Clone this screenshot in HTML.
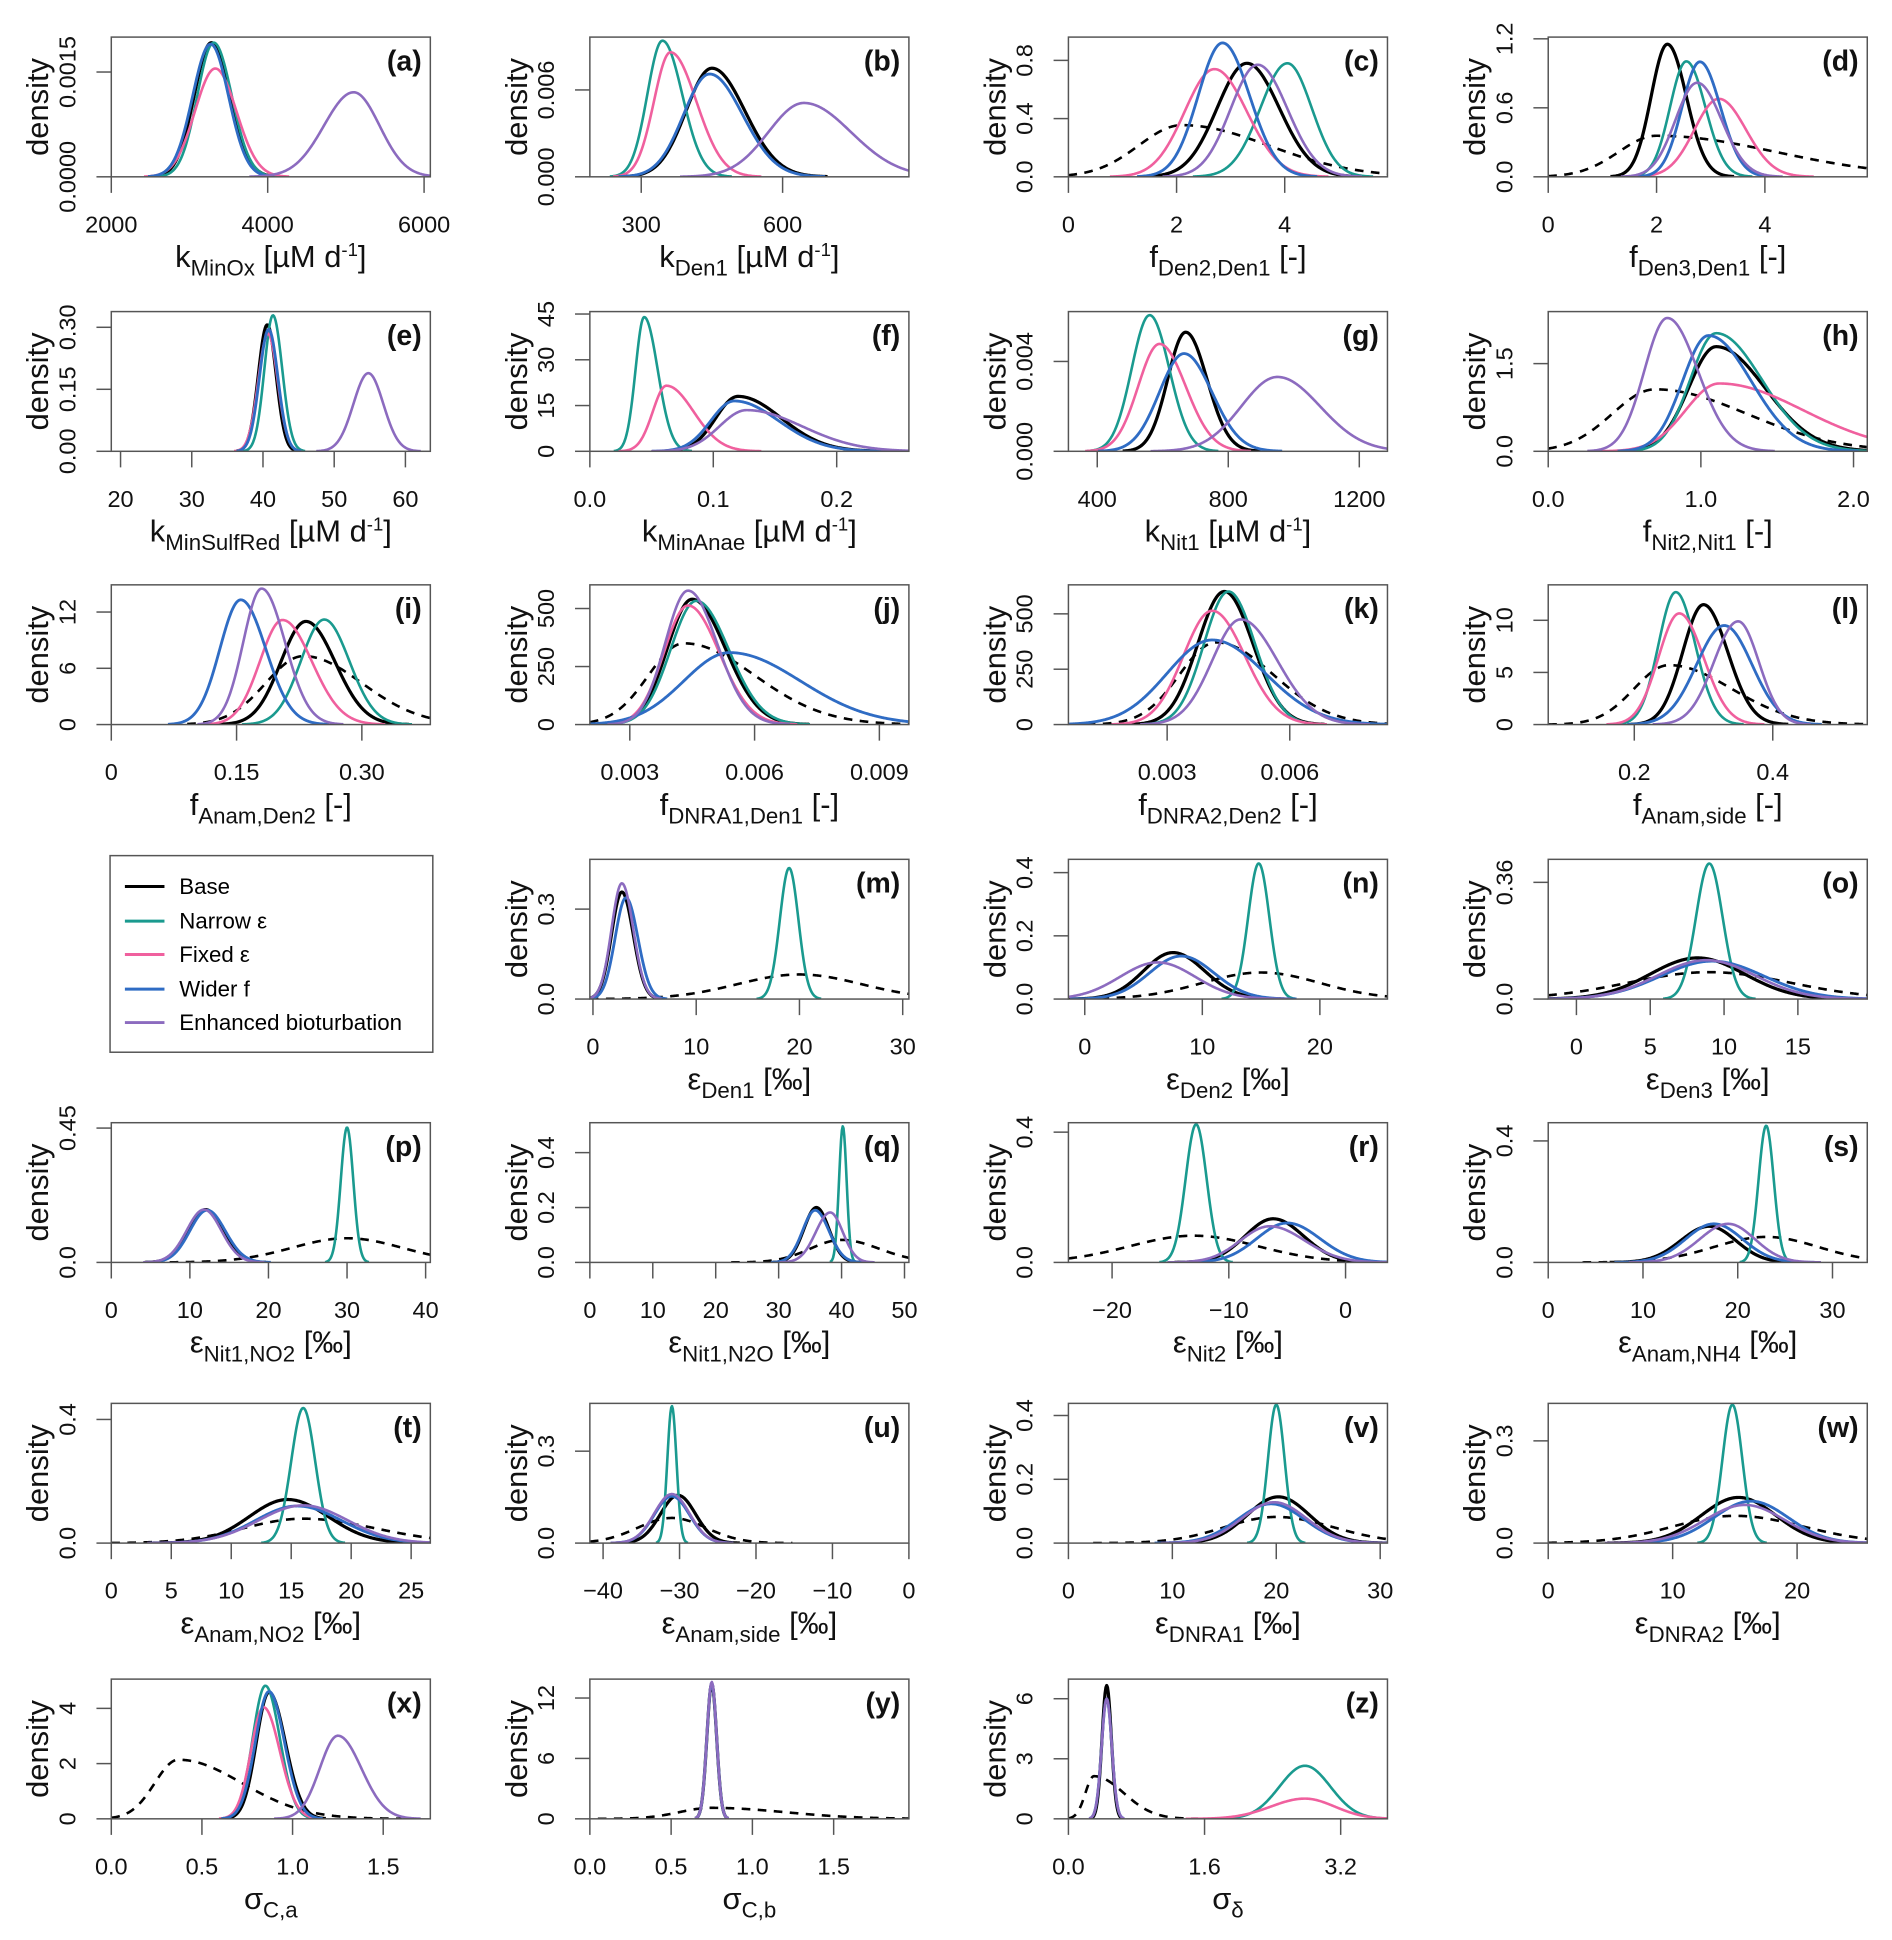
<!DOCTYPE html>
<html><head><meta charset="utf-8">
<style>
html,body{margin:0;padding:0;background:#fff;}
svg{display:block;font-family:"Liberation Sans",Arial,sans-serif;}
</style></head>
<body>
<svg id="fig" width="1892" height="1940" viewBox="0 0 1530 1569" preserveAspectRatio="none" xmlns="http://www.w3.org/2000/svg">
<rect x="0" y="0" width="1530" height="1569" fill="#fff"/>
<g id="legend">
  <rect x="89" y="692" width="261" height="159" fill="none" stroke="#555" stroke-width="1.2"/>
  <g><line x1="101" y1="717" x2="133" y2="717" stroke="#000" stroke-width="2.4"/><text x="145" y="723" font-size="18">Base</text></g>
  <g><line x1="101" y1="745" x2="133" y2="745" stroke="#1a9a8f" stroke-width="2.4"/><text x="145" y="751" font-size="18">Narrow ε</text></g>
  <g><line x1="101" y1="772" x2="133" y2="772" stroke="#f0609e" stroke-width="2.4"/><text x="145" y="778" font-size="18">Fixed ε</text></g>
  <g><line x1="101" y1="800" x2="133" y2="800" stroke="#2f6cc4" stroke-width="2.4"/><text x="145" y="806" font-size="18">Wider f</text></g>
  <g><line x1="101" y1="827" x2="133" y2="827" stroke="#8c6bbf" stroke-width="2.4"/><text x="145" y="833" font-size="18">Enhanced bioturbation</text></g>
</g>
</svg>
<script>
// ---- data (per panel, index order a..z) ----
const panelLabels = ['a','b','c','d','e','f','g','h','i','j','k','l','m','n','o','p','q','r','s','t','u','v','w','x','y','z'];
const panelSlots = [0,1,2,3,4,5,6,7,8,9,10,11,13,14,15,16,17,18,19,20,21,22,23,24,25,26];
const xDomains = [[2000,6080],[191,868],[0,5.9],[0,5.89],[18.7,63.5],[0,0.2585],[312,1286],[0,2.09],[0,0.382],[0.00204,0.00971],[0.000585,0.00839],[0.0757,0.5365],[-0.3,30.6],[-1.39,25.75],[-1.91,19.7],[0,40.6],[0,50.7],[-23.74,3.59],[0,33.67],[0,26.6],[-41.73,0],[0,30.7],[0,25.64],[0,1.76],[0,1.963],[0,3.75]];
const xTicks = [[2000,4000,6000],[300,600],[0,2,4],[0,2,4],[20,30,40,50,60],[0,0.1,0.2],[400,800,1200],[0,1,2],[0,0.15,0.30],[0.003,0.006,0.009],[0.003,0.006],[0.2,0.4],[0,10,20,30],[0,10,20],[0,5,10,15],[0,10,20,30,40],[0,10,20,30,40,50],[-20,-10,0],[0,10,20,30],[0,5,10,15,20,25],[-40,-30,-20,-10,0],[0,10,20,30],[0,10,20],[0,0.5,1,1.5],[0,0.5,1,1.5],[0,1.6,3.2]];
const xTickLabels = [['2000','4000','6000'],['300','600'],['0','2','4'],['0','2','4'],['20','30','40','50','60'],['0.0','0.1','0.2'],['400','800','1200'],['0.0','1.0','2.0'],['0','0.15','0.30'],['0.003','0.006','0.009'],['0.003','0.006'],['0.2','0.4'],['0','10','20','30'],['0','10','20'],['0','5','10','15'],['0','10','20','30','40'],['0','10','20','30','40','50'],['\u221220','\u221210','0'],['0','10','20','30'],['0','5','10','15','20','25'],['\u221240','\u221230','\u221220','\u221210','0'],['0','10','20','30'],['0','10','20'],['0.0','0.5','1.0','1.5'],['0.0','0.5','1.0','1.5'],['0.0','1.6','3.2']];
const yMaxes = [0.002,0.00965,0.96,1.215,0.338,45.8,0.00622,2.39,14.9,602,631,13.4,0.466,0.442,0.431,0.468,0.509,0.429,0.46,0.452,0.456,0.438,0.41,5.06,13.88,6.98];
const yTicks = [[0,0.0015],[0,0.006],[0,0.4,0.8],[0,0.6,1.2],[0,0.15,0.3],[0,15,30,45],[0,0.004],[0,1.5],[0,6,12],[0,250,500],[0,250,500],[0,5,10],[0,0.3],[0,0.2,0.4],[0,0.36],[0,0.45],[0,0.2,0.4],[0,0.4],[0,0.4],[0,0.4],[0,0.3],[0,0.2,0.4],[0,0.3],[0,2,4],[0,6,12],[0,3,6]];
const yTickLabels = [['0.0000','0.0015'],['0.000','0.006'],['0.0','0.4','0.8'],['0.0','0.6','1.2'],['0.00','0.15','0.30'],['0','15','30','45'],['0.000','0.004'],['0.0','1.5'],['0','6','12'],['0','250','500'],['0','250','500'],['0','5','10'],['0.0','0.3'],['0.0','0.2','0.4'],['0.0','0.36'],['0.0','0.45'],['0.0','0.2','0.4'],['0.0','0.4'],['0.0','0.4'],['0.0','0.4'],['0.0','0.3'],['0.0','0.2','0.4'],['0.0','0.3'],['0','2','4'],['0','6','12'],['0','3','6']];
const titleSymbols = ['k','k','f','f','k','k','k','f','f','f','f','f','\u03b5','\u03b5','\u03b5','\u03b5','\u03b5','\u03b5','\u03b5','\u03b5','\u03b5','\u03b5','\u03b5','\u03c3','\u03c3','\u03c3'];
const titleSubs = ['MinOx','Den1','Den2,Den1','Den3,Den1','MinSulfRed','MinAnae','Nit1','Nit2,Nit1','Anam,Den2','DNRA1,Den1','DNRA2,Den2','Anam,side','Den1','Den2','Den3','Nit1,NO2','Nit1,N2O','Nit2','Anam,NH4','Anam,NO2','Anam,side','DNRA1','DNRA2','C,a','C,b','\u03b4'];
const titleUnits = ['rate','rate','-','-','rate','rate','rate','-','-','-','-','-','permil','permil','permil','permil','permil','permil','permil','permil','permil','permil','permil','','',''];
// series: [mode, peak density, left spread, right spread] per panel, null = absent
const baseSeries = [[3280,0.00192,220,240],[450,0.0075,55,70],[3.3,0.78,0.55,0.6],[2.2,1.153,0.3,0.35],[40.6,0.306,1.25,1.25],[0.12,18,0.018,0.035],[670,0.0053,55,65],[1.1,1.79,0.18,0.32],[0.233,11.0,0.03,0.035],[0.0045,540,0.0006,0.0008],[0.0044,601,0.00065,0.0007],[0.3,11.5,0.03,0.035],[2.8,0.357,1.0,1.1],[7.5,0.147,2.5,2.7],[8.2,0.127,3.2,3.2],[12,0.177,2.2,2.2],[36,0.2,2,2],[-6.2,0.134,2.4,2.6],[17,0.119,3,2.8],[14.7,0.141,3.2,3.4],[-30.2,0.156,2.3,2.3],[20.2,0.145,3,3],[15.3,0.134,3,3],[0.87,4.58,0.07,0.09],[0.75,13.4,0.03,0.03],[0.45,6.66,0.055,0.055]];
const narrowSeries = [[3310,0.00192,210,230],[345,0.0094,32,42],[4.05,0.78,0.5,0.45],[2.55,1.004,0.3,0.35],[41.4,0.329,1.2,1.3],[0.044,44,0.007,0.011],[560,0.00606,55,60],[1.1,2.02,0.17,0.3],[0.255,11.2,0.028,0.03],[0.0046,533,0.00062,0.00078],[0.0045,601,0.0006,0.00065],[0.26,12.7,0.025,0.028],[19,0.437,0.9,0.9],[14.8,0.429,0.9,0.9],[9,0.418,0.9,0.9],[30,0.452,0.8,0.8],[40.2,0.496,0.6,0.6],[-12.8,0.424,0.9,0.9],[23,0.45,0.8,0.8],[16,0.437,1,1],[-31,0.447,0.6,0.6],[20,0.434,0.8,0.8],[14.8,0.406,0.8,0.8],[0.85,4.82,0.07,0.08],[0.75,13.4,0.03,0.03],[2.78,2.65,0.3,0.3]];
const fixedSeries = [[3330,0.00155,260,270],[362,0.0086,35,55],[2.7,0.74,0.55,0.6],[3.15,0.678,0.45,0.5],[40.7,0.285,1.35,1.35],[0.062,21.5,0.011,0.022],[590,0.00478,65,80],[1.12,1.16,0.22,0.55],[0.205,11.15,0.027,0.035],[0.0044,513,0.00058,0.00075],[0.0041,514,0.0007,0.0008],[0.265,10.66,0.03,0.035],null,null,null,null,null,null,null,null,null,null,null,[0.84,4.04,0.07,0.09],[0.75,13.4,0.03,0.03],[2.78,1.01,0.4,0.35]];
const widerSeries = [[3270,0.0019,230,230],[445,0.0071,55,70],[2.85,0.92,0.45,0.5],[2.8,1.0,0.33,0.38],[40.8,0.295,1.3,1.3],[0.117,16.5,0.019,0.036],[665,0.00435,75,85],[1.05,1.98,0.17,0.28],[0.155,13.3,0.025,0.03],[0.0054,310,0.0011,0.0017],[0.0041,382,0.0011,0.0013],[0.33,9.5,0.04,0.04],[3.2,0.338,1.05,1.15],[8.2,0.136,2.7,2.8],[9.2,0.117,3.5,3.5],[12.2,0.175,2.2,2.3],[35.8,0.19,2,2.2],[-5,0.121,2.6,2.8],[17.5,0.127,3,3],[15.5,0.12,3.5,3.7],[-31,0.153,2.3,2.3],[19.5,0.123,3.2,3.2],[16.3,0.123,3,3],[0.87,4.61,0.075,0.085],[0.75,13.5,0.03,0.03],[0.45,6.0,0.06,0.06]];
const enhancedSeries = [[5100,0.00121,380,330],[645,0.0051,75,100],[3.5,0.77,0.5,0.55],[2.75,0.818,0.4,0.45],[54.8,0.189,2.1,2.1],[0.127,13.5,0.022,0.045],[950,0.00331,110,130],[0.78,2.28,0.15,0.2],[0.18,14.5,0.022,0.028],[0.0044,577,0.00055,0.0007],[0.0048,475,0.0007,0.0009],[0.35,9.9,0.035,0.03],[2.8,0.386,1.0,1.1],[6.2,0.116,3.2,3.2],[8.8,0.12,3.3,3.3],[11.8,0.177,2.2,2.2],[38.2,0.182,2.3,2],[-6.5,0.111,2.5,3],[19,0.127,3,2.8],[16,0.122,3.7,3.7],[-31,0.16,2.3,2.3],[19.8,0.128,3.1,3.1],[15.8,0.112,3.2,3.2],[1.25,3.01,0.1,0.13],[0.75,13.6,0.03,0.03],[0.45,6.0,0.06,0.06]];
const priorSeries = [null,null,[2.1,0.355,0.8,1.6],[2.0,0.357,0.7,2.2],null,null,null,[0.7,1.06,0.28,0.6],[0.23,7.3,0.045,0.07],[0.0043,350,0.00085,0.0017],[0.0042,371,0.0009,0.0014],[0.25,5.7,0.05,0.09],[20,0.082,6,6],[15,0.084,5,5],[9,0.083,5.5,5.5],[30,0.081,7,7],[40,0.082,5,6],[-13,0.082,5.5,5.5],[23,0.084,5.5,5.5],[16,0.079,5,6],[-31,0.082,4.5,4.5],[20,0.082,5,5.5],[15,0.08,5,5.5],[0.37,2.14,0.13,0.35],[0.75,1.09,0.2,0.45],[0.3,2.13,0.1,0.35]];

// ---- layout ----
const colX = [90,477,864,1252];
const rowY = [30,252,473,695,908,1135,1358];
const W = 258, H = 113;
const NS = 'http://www.w3.org/2000/svg';
const svg = document.getElementById('fig');
function mk(tag, attrs, parent){const e=document.createElementNS(NS,tag);for(const k in attrs)e.setAttribute(k,attrs[k]);(parent||svg).appendChild(e);return e;}
function dens(x,c){const s=x<c[0]?c[2]:c[3];return c[1]*Math.exp(-0.5*((x-c[0])/s)*((x-c[0])/s));}

const seriesList = [
  {data: priorSeries, name:'prior', color:'#000', dash:'7,6', w:2.1},
  {data: baseSeries, name:'base', color:'#000', dash:'', w:2.6},
  {data: narrowSeries, name:'narrow-eps', color:'#1a9a8f', dash:'', w:2.1},
  {data: fixedSeries, name:'fixed-eps', color:'#f0609e', dash:'', w:2.1},
  {data: widerSeries, name:'wider-f', color:'#2f6cc4', dash:'', w:2.3},
  {data: enhancedSeries, name:'enhanced-bioturbation', color:'#8c6bbf', dash:'', w:2.1}
];

panelLabels.forEach((lab,i)=>{
  const slot = panelSlots[i];
  const L = colX[slot%4], T = rowY[Math.floor(slot/4)], B = T+H, R = L+W;
  const [x0,x1] = xDomains[i];
  const ym = yMaxes[i];
  const sx = v => L + (v-x0)/(x1-x0)*W;
  const sy = v => B - v/ym*H;
  const g = mk('g',{});
  
  
  const clipId = 'clip'+lab;
  const cp = mk('clipPath',{id:clipId},g); mk('rect',{x:L,y:T-2,width:W,height:H+2},cp);
  seriesList.forEach(s=>{
    const c = s.data[i]; if(!c) return;
    let d=''; let on=false;
    for(let k=0;k<=400;k++){
      const x = x0+(x1-x0)*k/400; const y = dens(x,c);
      if(y < c[1]*0.002){on=false;continue;}
      d += (on?'L':'M')+sx(x).toFixed(2)+','+sy(y).toFixed(2);
      on=true;
    }
    const p = mk('path',{d:d,fill:'none',stroke:s.color,'stroke-width':s.w,'stroke-linejoin':'round','clip-path':'url(#'+clipId+')'},g);
    if(s.dash) p.setAttribute('stroke-dasharray', s.dash);
    
    
  });
  const bx = mk('rect',{x:L,y:T,width:W,height:H,fill:'none',stroke:'#555','stroke-width':1.2},g);
  
  
  const xa = mk('g',{},g);
  
  
  xTicks[i].forEach((t,j)=>{
    const x = sx(t);
    mk('line',{x1:x,y1:B,x2:x,y2:B+13,stroke:'#555','stroke-width':1.2},xa);
    const tx = mk('text',{x:x,y:B+45,'font-size':19,'text-anchor':'middle',fill:'#111'},xa);
    tx.textContent = xTickLabels[i][j];
  });
  const ya = mk('g',{},g);
  
  
  yTicks[i].forEach((t,j)=>{
    const y = sy(t);
    mk('line',{x1:L-12,y1:y,x2:L,y2:y,stroke:'#555','stroke-width':1.2},ya);
    const tx = mk('text',{x:L-29,y:y,'font-size':19,'text-anchor':'middle',fill:'#111',transform:'rotate(-90 '+(L-29)+' '+y+')'},ya);
    tx.textContent = yTickLabels[i][j];
  });
  const yt = mk('text',{x:L-51,y:T+H/2,'font-size':25,'text-anchor':'middle',fill:'#111',transform:'rotate(-90 '+(L-51)+' '+(T+H/2)+')'},g);
  yt.textContent = 'density';
  
  
  const pl = mk('text',{x:R-7,y:T+27,'font-size':23,'font-weight':'bold','text-anchor':'end',fill:'#111'},g);
  pl.textContent = '('+lab+')';
  
  
  const xt = mk('text',{x:L+W/2,y:B+73,'font-size':25,'text-anchor':'middle',fill:'#111'},g);
  
  
  const t1 = mk('tspan',{},xt); t1.textContent = titleSymbols[i];
  const t2 = mk('tspan',{'font-size':18,dy:7},xt); t2.textContent = titleSubs[i];
  const u = titleUnits[i];
  if(u==='rate'){
    const a = mk('tspan',{dy:-7},xt); a.textContent=' [\u00b5M d';
    const b = mk('tspan',{'font-size':15,dy:-9},xt); b.textContent='-1';
    const c = mk('tspan',{dy:9},xt); c.textContent=']';
  } else if(u==='-'){
    const a = mk('tspan',{dy:-7},xt); a.textContent=' [-]';
  } else if(u==='permil'){
    const a = mk('tspan',{dy:-7},xt); a.textContent=' [\u2030]';
  }
});
</script>
</body></html>
